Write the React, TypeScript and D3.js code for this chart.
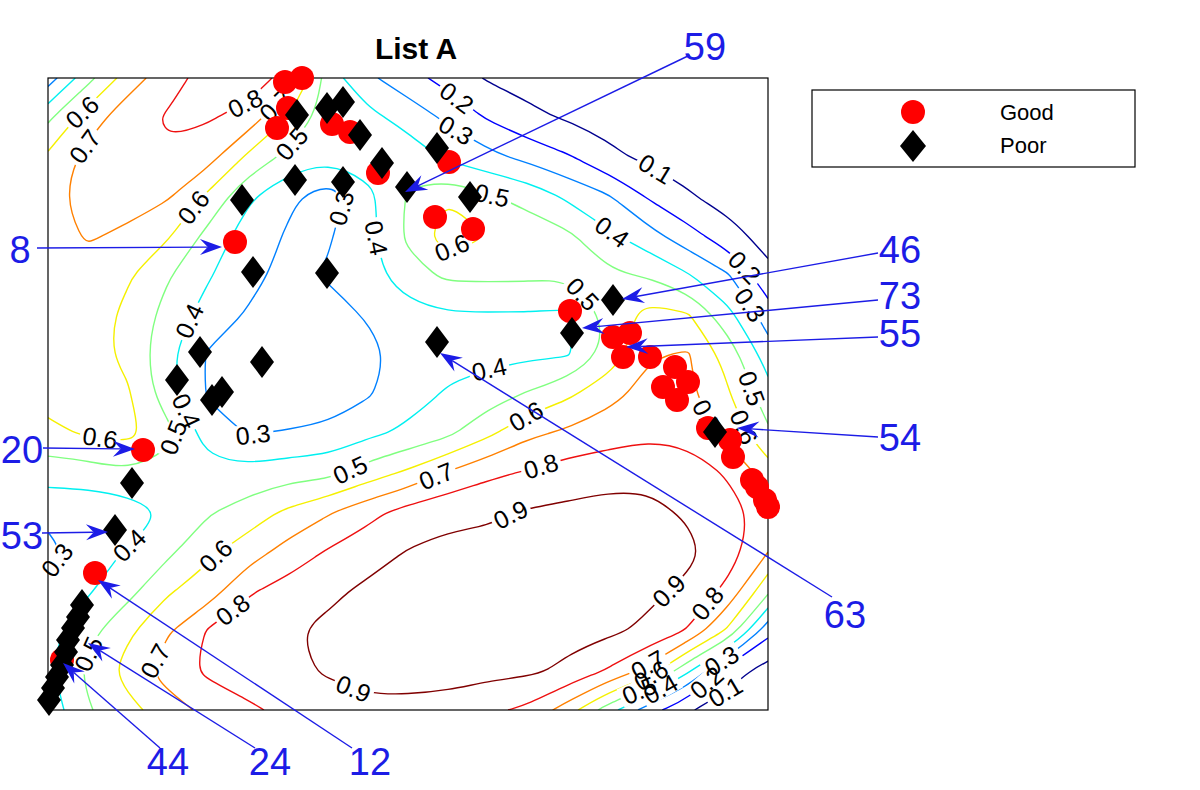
import React, { useMemo } from "react";
import * as d3 from "d3";

const WIDTH = 1200;
const HEIGHT = 790;
const PLOT = { left: 48, top: 78, width: 720, height: 632 };
const FONT = "'Liberation Sans', Arial, Helvetica, sans-serif";
const BLUE = "#1c1ce6";

// data space of the axes box: x 0..720, y 0..632 (bottom-left origin)
const X_DOMAIN = [0, 720];
const Y_DOMAIN = [0, 632];

const LEVELS = [0.1, 0.2, 0.3, 0.4, 0.5, 0.6, 0.7, 0.8, 0.9];
const LEVEL_COLORS = ["#00008f", "#0000ff", "#0080ff", "#00f0f0", "#80ff80", "#f5f000", "#ff8000", "#ee1010", "#800000"];

// surface, one row every 39.5 units from the top edge down,
// one column every 40 units from the left edge
const GRID_X_STEP = 40;
const GRID_Y_STEP = 39.5;
const SURFACE = [
  [0.25, 0.47, 0.65, 0.76, 0.84, 0.86, 0.76, 0.45, 0.32, 0.24, 0.16, 0.09, 0.07, 0.05, 0.04, 0.03, 0.02, 0.02, 0.01],
  [0.48, 0.65, 0.76, 0.81, 0.81, 0.76, 0.6, 0.45, 0.43, 0.36, 0.28, 0.19, 0.12, 0.09, 0.07, 0.05, 0.04, 0.03, 0.02],
  [0.62, 0.73, 0.77, 0.79, 0.74, 0.58, 0.47, 0.42, 0.45, 0.46, 0.38, 0.33, 0.27, 0.21, 0.12, 0.08, 0.06, 0.04, 0.03],
  [0.67, 0.74, 0.74, 0.71, 0.58, 0.42, 0.32, 0.25, 0.37, 0.51, 0.58, 0.51, 0.47, 0.38, 0.31, 0.19, 0.11, 0.06, 0.05],
  [0.66, 0.71, 0.68, 0.61, 0.47, 0.35, 0.29, 0.29, 0.37, 0.52, 0.64, 0.59, 0.55, 0.52, 0.42, 0.34, 0.24, 0.14, 0.06],
  [0.66, 0.66, 0.61, 0.51, 0.41, 0.33, 0.27, 0.31, 0.36, 0.46, 0.52, 0.52, 0.52, 0.51, 0.52, 0.49, 0.41, 0.31, 0.13],
  [0.65, 0.64, 0.58, 0.46, 0.36, 0.29, 0.25, 0.26, 0.31, 0.36, 0.39, 0.39, 0.39, 0.38, 0.52, 0.64, 0.61, 0.43, 0.25],
  [0.64, 0.63, 0.58, 0.42, 0.29, 0.24, 0.22, 0.23, 0.27, 0.34, 0.37, 0.37, 0.38, 0.39, 0.53, 0.69, 0.71, 0.56, 0.35],
  [0.63, 0.62, 0.61, 0.44, 0.29, 0.23, 0.22, 0.25, 0.29, 0.36, 0.41, 0.45, 0.51, 0.58, 0.67, 0.73, 0.72, 0.61, 0.44],
  [0.58, 0.61, 0.63, 0.53, 0.35, 0.295, 0.31, 0.32, 0.38, 0.42, 0.48, 0.58, 0.68, 0.72, 0.75, 0.78, 0.77, 0.67, 0.52],
  [0.44, 0.45, 0.49, 0.46, 0.44, 0.43, 0.46, 0.47, 0.55, 0.62, 0.71, 0.78, 0.81, 0.85, 0.87, 0.88, 0.85, 0.79, 0.65],
  [0.33, 0.33, 0.34, 0.41, 0.49, 0.55, 0.62, 0.69, 0.77, 0.84, 0.88, 0.88, 0.91, 0.92, 0.93, 0.92, 0.89, 0.83, 0.77],
  [0.27, 0.35, 0.41, 0.48, 0.58, 0.65, 0.74, 0.81, 0.86, 0.905, 0.92, 0.94, 0.95, 0.95, 0.95, 0.94, 0.92, 0.85, 0.7],
  [0.33, 0.39, 0.47, 0.59, 0.65, 0.79, 0.84, 0.88, 0.92, 0.95, 0.96, 0.96, 0.96, 0.95, 0.94, 0.92, 0.88, 0.77, 0.52],
  [0.37, 0.47, 0.58, 0.69, 0.81, 0.85, 0.89, 0.92, 0.94, 0.95, 0.95, 0.95, 0.94, 0.93, 0.92, 0.88, 0.79, 0.58, 0.23],
  [0.38, 0.52, 0.64, 0.75, 0.82, 0.86, 0.88, 0.91, 0.93, 0.93, 0.93, 0.93, 0.92, 0.88, 0.79, 0.67, 0.42, 0.15, 0.06],
  [0.34, 0.49, 0.57, 0.65, 0.73, 0.78, 0.83, 0.86, 0.88, 0.88, 0.87, 0.82, 0.78, 0.65, 0.45, 0.25, 0.11, 0.05, 0.02],
];

const GOOD = [
  [237, 628], [254, 632], [240, 602], [229, 582], [284, 586], [302, 578], [330, 537], [401, 548],
  [387, 493], [425, 481], [187, 468], [522, 399], [565, 373], [582, 377], [575, 353], [602, 353],
  [627, 343], [640, 328], [615, 323], [629, 310], [660, 282], [682, 270], [685, 253], [704, 230],
  [709, 223], [717, 210], [720, 203], [95, 260], [47, 137], [14, 50],
];

const POOR = [
  [249, 595], [279, 602], [295, 608], [312, 575], [334, 547], [359, 523], [389, 562], [422, 513],
  [194, 510], [247, 530], [295, 528], [205, 438], [279, 437], [152, 358], [214, 348], [129, 330],
  [174, 318], [164, 310], [389, 368], [524, 377], [565, 410], [667, 278], [84, 227], [67, 180],
  [34, 105], [30, 93], [25, 82], [20, 70], [18, 58], [14, 45], [9, 33], [5, 22], [1, 10],
];

// approximate spots of the inline contour labels
const CONTOUR_LABELS = [
  { level: 0.6, x: 32, y: 600 }, { level: 0.7, x: 32, y: 567 }, { level: 0.8, x: 197, y: 607 },
  { level: 0.7, x: 235, y: 598 }, { level: 0.5, x: 242, y: 568 }, { level: 0.2, x: 407, y: 610 },
  { level: 0.3, x: 407, y: 578 }, { level: 0.1, x: 604, y: 535 }, { level: 0.5, x: 444, y: 515 },
  { level: 0.6, x: 402, y: 467 }, { level: 0.4, x: 567, y: 482 }, { level: 0.2, x: 694, y: 440 },
  { level: 0.3, x: 702, y: 405 }, { level: 0.6, x: 145, y: 503 }, { level: 0.3, x: 300, y: 500 },
  { level: 0.4, x: 328, y: 472 }, { level: 0.5, x: 539, y: 420 }, { level: 0.4, x: 139, y: 390 },
  { level: 0.4, x: 136, y: 298 }, { level: 0.5, x: 132, y: 270 }, { level: 0.3, x: 205, y: 277 },
  { level: 0.6, x: 50, y: 258 }, { level: 0.5, x: 299, y: 247 }, { level: 0.4, x: 442, y: 337 },
  { level: 0.6, x: 479, y: 292 }, { level: 0.7, x: 385, y: 242 }, { level: 0.8, x: 492, y: 247 },
  { level: 0.9, x: 462, y: 197 }, { level: 0.5, x: 705, y: 322 }, { level: 0.6, x: 694, y: 282 },
  { level: 0.7, x: 649, y: 288 }, { level: 0.4, x: 84, y: 162 }, { level: 0.3, x: 9, y: 150 },
  { level: 0.6, x: 165, y: 157 }, { level: 0.8, x: 185, y: 100 }, { level: 0.7, x: 100, y: 53 },
  { level: 0.5, x: 32, y: 60 }, { level: 0.9, x: 305, y: 20 }, { level: 0.9, x: 625, y: 115 },
  { level: 0.8, x: 659, y: 107 }, { level: 0.7, x: 600, y: 45 }, { level: 0.6, x: 604, y: 33 },
  { level: 0.5, x: 592, y: 18 }, { level: 0.4, x: 612, y: 22 }, { level: 0.3, x: 672, y: 52 },
  { level: 0.2, x: 659, y: 27 }, { level: 0.1, x: 675, y: 22 },
];

// numbered call-outs: text spot, line start, arrow tip (data units)
const CALLOUTS = [
  { text: "59", tx: 657, ty: 663, x0: 642, y0: 655, x1: 357, y1: 518 },
  { text: "8", tx: -28, ty: 460, x0: -11, y0: 462, x1: 174, y1: 463 },
  { text: "46", tx: 852, ty: 460, x0: 830, y0: 457, x1: 574, y1: 411 },
  { text: "73", tx: 852, ty: 414, x0: 830, y0: 410, x1: 534, y1: 382 },
  { text: "55", tx: 852, ty: 376, x0: 830, y0: 373, x1: 578, y1: 363 },
  { text: "54", tx: 852, ty: 272, x0: 830, y0: 273, x1: 689, y1: 282 },
  { text: "63", tx: 797, ty: 95, x0: 784, y0: 113, x1: 392, y1: 357 },
  { text: "20", tx: -26, ty: 260, x0: -5, y0: 262, x1: 87, y1: 261 },
  { text: "53", tx: -26, ty: 174, x0: -6, y0: 177, x1: 60, y1: 178 },
  { text: "12", tx: 322, ty: -52, x0: 304, y0: -38, x1: 50, y1: 130 },
  { text: "24", tx: 222, ty: -52, x0: 207, y0: -38, x1: 40, y1: 67 },
  { text: "44", tx: 120, ty: -52, x0: 112, y0: -38, x1: 15, y1: 47 },
];

const LABEL_SIZE = 25;
const CALLOUT_SIZE = 38;

function splitRing(ring, cols, rows) {
  const pts = ring.slice(0, -1);
  const outside = p => p[0] <= 0 || p[0] >= cols || p[1] <= 0 || p[1] >= rows;
  const start = pts.findIndex(outside);
  if (start < 0) return [{ closed: true, pts }];
  const out = [];
  let cur = [];
  for (let k = 0; k < pts.length; k++) {
    const p = pts[(start + k) % pts.length];
    if (outside(p)) {
      if (cur.length > 1) out.push({ closed: false, pts: cur });
      cur = [];
    } else cur.push(p);
  }
  if (cur.length > 1) out.push({ closed: false, pts: cur });
  return out;
}

function nearestOnLevel(lines, level, px, py) {
  let best = null;
  lines.forEach(l => {
    if (Math.abs(l.level - level) > 1e-6) return;
    const pts = l.closed ? [...l.pts, l.pts[0]] : l.pts;
    for (let i = 0; i < pts.length - 1; i++) {
      const [ax, ay] = pts[i];
      const [bx, by] = pts[i + 1];
      const dx = bx - ax, dy = by - ay;
      const len2 = dx * dx + dy * dy || 1;
      const t = Math.max(0, Math.min(1, ((px - ax) * dx + (py - ay) * dy) / len2));
      const qx = ax + t * dx, qy = ay + t * dy;
      const d = (qx - px) ** 2 + (qy - py) ** 2;
      if (!best || d < best.d) best = { d, x: qx, y: qy, angle: (Math.atan2(dy, dx) * 180) / Math.PI };
    }
  });
  if (!best) return null;
  let a = best.angle;
  if (a > 90) a -= 180;
  if (a < -90) a += 180;
  return { x: best.x, y: best.y, angle: a };
}

function arrowHead(x0, y0, x1, y1) {
  const len = 22, half = 8, notch = 0.65;
  const a = Math.atan2(y1 - y0, x1 - x0);
  const ux = Math.cos(a), uy = Math.sin(a);
  const bx = x1 - ux * len, by = y1 - uy * len;
  const nx = x1 - ux * len * notch, ny = y1 - uy * len * notch;
  return {
    d: `M${x1},${y1}L${bx - uy * half},${by + ux * half}L${nx},${ny}L${bx + uy * half},${by - ux * half}Z`,
    nx,
    ny,
  };
}

const diamond = (cx, cy, w = 12, h = 16) => `M${cx},${cy - h}L${cx + w},${cy}L${cx},${cy + h}L${cx - w},${cy}Z`;

export default function App() {
  const x = d3.scaleLinear().domain(X_DOMAIN).range([PLOT.left, PLOT.left + PLOT.width]);
  const y = d3.scaleLinear().domain(Y_DOMAIN).range([PLOT.top + PLOT.height, PLOT.top]);

  const lines = useMemo(() => {
    const rows = SURFACE.length, cols = SURFACE[0].length;
    const contours = d3.contours().size([cols, rows]).thresholds(LEVELS)(SURFACE.flat());
    const out = [];
    contours.forEach(c => {
      c.coordinates.forEach(poly =>
        poly.forEach(ring =>
          splitRing(ring, cols, rows).forEach(seg =>
            out.push({
              level: c.value,
              closed: seg.closed,
              pts: seg.pts.map(([gx, gy]) => [
                x((gx - 0.5) * GRID_X_STEP),
                y(Y_DOMAIN[1] - (gy - 0.5) * GRID_Y_STEP),
              ]),
            })
          )
        )
      );
    });
    return out;
  }, []);

  const labels = useMemo(
    () =>
      CONTOUR_LABELS.map(l => {
        const p = nearestOnLevel(lines, l.level, x(l.x), y(l.y));
        return p ? { ...p, text: l.level.toFixed(1) } : null;
      }).filter(Boolean),
    [lines]
  );

  // smooth the marching-squares polylines; tiny loops keep their size
  const openLine = d3.line().curve(d3.curveBasis);
  const loopLine = d3.line().curve(d3.curveBasisClosed);
  const tinyLoop = d3.line().curve(d3.curveCatmullRomClosed.alpha(0.5));
  const pathFor = l => (l.closed ? (l.pts.length < 10 ? tinyLoop(l.pts) : loopLine(l.pts)) : openLine(l.pts));

  const gapW = LABEL_SIZE * 1.39 + 6;
  const gapH = LABEL_SIZE * 0.8;

  return (
    <svg
      width={WIDTH}
      height={HEIGHT}
      style={{ position: "absolute", left: 0, top: 0, background: "#fff" }}
      fontFamily={FONT}
    >
      <defs>
        <clipPath id="plot-clip">
          <rect x={PLOT.left} y={PLOT.top} width={PLOT.width} height={PLOT.height} />
        </clipPath>
        <mask id="label-gaps" maskUnits="userSpaceOnUse" x={0} y={0} width={WIDTH} height={HEIGHT}>
          <rect x={0} y={0} width={WIDTH} height={HEIGHT} fill="#fff" />
          {labels.map((l, i) => (
            <rect
              key={i}
              x={l.x - gapW / 2}
              y={l.y - gapH / 2}
              width={gapW}
              height={gapH}
              fill="#000"
              transform={`rotate(${l.angle} ${l.x} ${l.y})`}
            />
          ))}
        </mask>
      </defs>

      <rect x={0} y={0} width={WIDTH} height={HEIGHT} fill="#fff" />

      <g clipPath="url(#plot-clip)">
        <g mask="url(#label-gaps)" fill="none" strokeWidth={1.4}>
          {lines.map((l, i) => (
            <path key={i} d={pathFor(l)} stroke={LEVEL_COLORS[LEVELS.findIndex(v => Math.abs(v - l.level) < 1e-6)]} />
          ))}
        </g>
      </g>

      {labels.map((l, i) => (
        <text
          key={i}
          x={l.x}
          y={l.y}
          fontSize={LABEL_SIZE}
          textAnchor="middle"
          dominantBaseline="central"
          transform={`rotate(${l.angle} ${l.x} ${l.y})`}
        >
          {l.text}
        </text>
      ))}

      <rect x={PLOT.left} y={PLOT.top} width={PLOT.width} height={PLOT.height} fill="none" stroke="#000" strokeWidth={1.2} />

      {GOOD.map(([gx, gy], i) => (
        <circle key={i} cx={x(gx)} cy={y(gy)} r={12} fill="#ff0000" />
      ))}
      {POOR.map(([px, py], i) => (
        <path key={i} d={diamond(x(px), y(py))} fill="#000" />
      ))}

      <text x={416} y={59} textAnchor="middle" fontSize={30} fontWeight="bold">
        List A
      </text>

      {CALLOUTS.map((c, i) => {
        const x0 = x(c.x0), y0 = y(c.y0), x1 = x(c.x1), y1 = y(c.y1);
        const head = arrowHead(x0, y0, x1, y1);
        return (
          <g key={i}>
            <line x1={x0} y1={y0} x2={head.nx} y2={head.ny} stroke={BLUE} strokeWidth={1.4} />
            <path d={head.d} fill={BLUE} />
            <text
              x={x(c.tx)}
              y={y(c.ty)}
              fontSize={CALLOUT_SIZE}
              fill={BLUE}
              textAnchor="middle"
              dominantBaseline="central"
            >
              {c.text}
            </text>
          </g>
        );
      })}

      <g>
        <rect x={812} y={90} width={323} height={77} fill="#fff" stroke="#000" strokeWidth={1.2} />
        <circle cx={913} cy={112} r={12} fill="#ff0000" />
        <path d={diamond(913, 146, 13, 16)} fill="#000" />
        <text x={1000} y={120} fontSize={22}>Good</text>
        <text x={1000} y={153} fontSize={22}>Poor</text>
      </g>
    </svg>
  );
}
